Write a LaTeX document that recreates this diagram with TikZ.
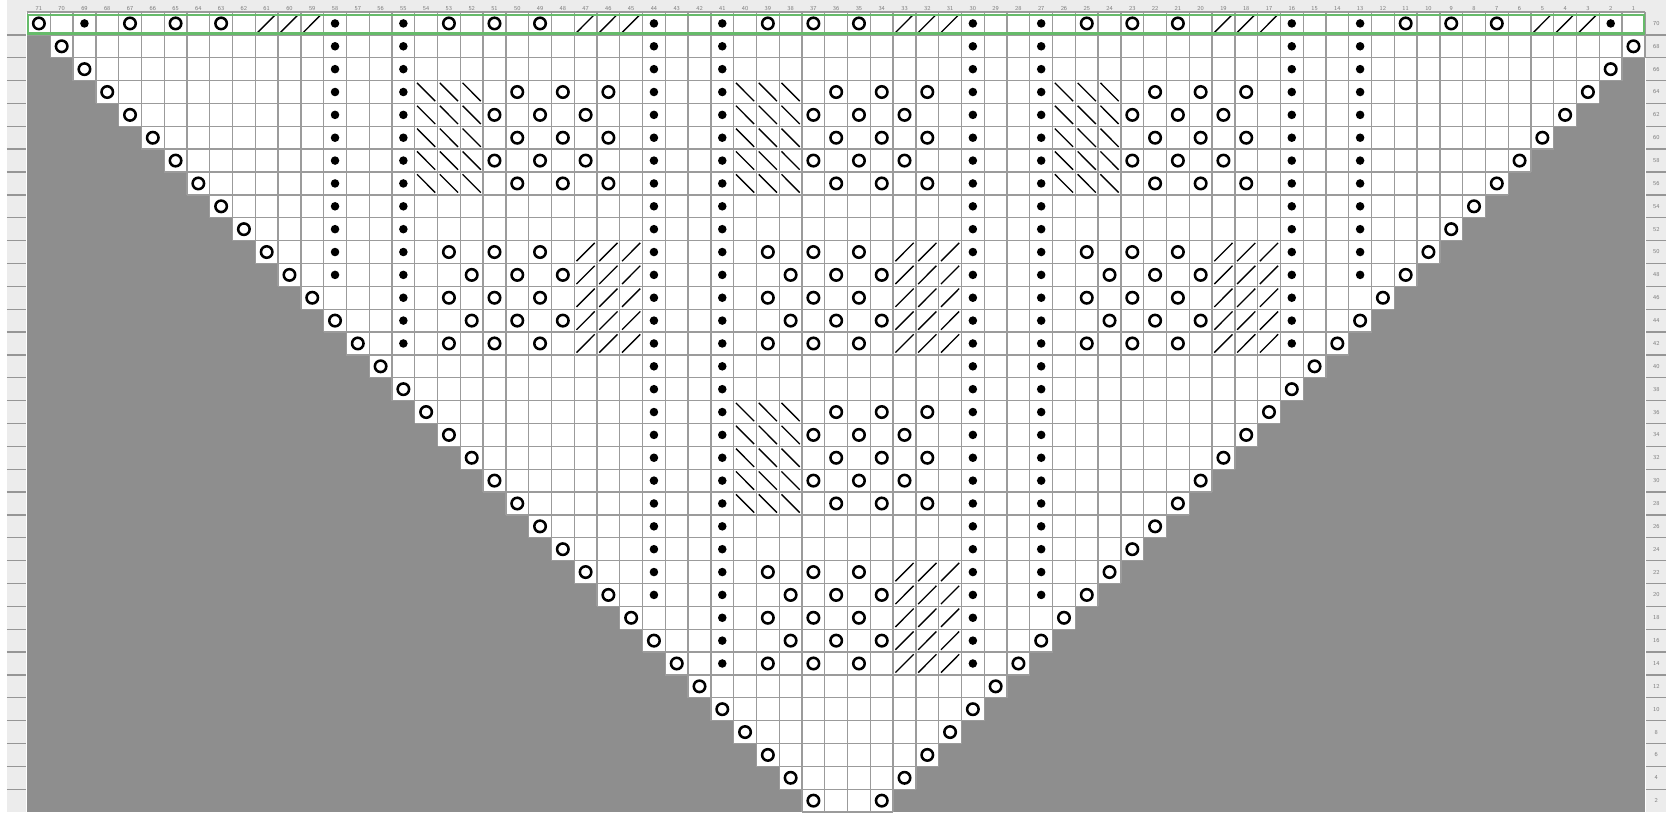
\documentclass[tikz,border=0pt]{standalone}
\definecolor{gridgray}{RGB}{155,155,155}
\definecolor{darkbg}{RGB}{142,142,142}
\definecolor{stripgray}{RGB}{236,236,236}
\definecolor{stripline}{RGB}{150,150,150}
\definecolor{labelgray}{RGB}{125,125,125}
\definecolor{framegreen}{RGB}{102,187,106}
\newcommand\yoat[2]{\draw[yost] ({71.5-(#1)},{-(#2)-0.5}) circle[radius=4.3pt];}
\newcommand\purlat[2]{\fill[black] ({71.5-(#1)},{-(#2)-0.5}) circle[radius=3.2pt];}
\newcommand\ktogat[2]{\draw[decst] ({71.5-(#1)-0.4},{-(#2)-0.9}) -- ({71.5-(#1)+0.4},{-(#2)-0.1});}
\newcommand\sskat[2]{\draw[decst] ({71.5-(#1)-0.4},{-(#2)-0.1}) -- ({71.5-(#1)+0.4},{-(#2)-0.9});}
% section patterns, #1 = first column of the section, #2 = row index
\newcommand\rowDecA[2]{\foreach \d in {0,1,2}{\sskat{#1-\d}{#2}}\foreach \d in {4,6,8}{\yoat{#1-\d}{#2}}}
\newcommand\rowDecB[2]{\foreach \d in {0,1,2}{\sskat{#1-\d}{#2}}\foreach \d in {3,5,7}{\yoat{#1-\d}{#2}}}
\newcommand\rowIncA[2]{\foreach \d in {1,3,5}{\yoat{#1-\d}{#2}}\foreach \d in {7,8,9}{\ktogat{#1-\d}{#2}}}
\newcommand\rowIncB[2]{\foreach \d in {2,4,6}{\yoat{#1-\d}{#2}}\foreach \d in {7,8,9}{\ktogat{#1-\d}{#2}}}
\begin{document}
\begin{tikzpicture}[x=0.6cm,y=0.6021cm,
  gridln/.style={draw=gridgray,line width=1pt},
  yost/.style={draw=black,line width=1.9pt},
  decst/.style={draw=black,line width=1pt},
  stripln/.style={draw=stripline,line width=1pt},
  collab/.style={font=\fontsize{4.5}{5}\selectfont\sffamily,text=labelgray,inner sep=0pt},
  greenbox/.style={draw=framegreen,line width=2pt}]
\useasboundingbox (-1.2072,-35) rectangle (72.236,0.525);
\fill[white] (-1.2072,-35) rectangle (72.236,0.525);
% header and side strips
\fill[stripgray] (-0.90,0) rectangle (71.93,0.525);
\fill[stripgray] (-0.90,-35) rectangle (-0.07,0);
\fill[stripgray] (71.07,-35) rectangle (71.93,0);
\foreach \j in {1,...,34}{
  \draw[stripln] (-0.90,-\j) -- (-0.07,-\j);
  \draw[stripln] (71.07,-\j) -- (71.93,-\j);
}
% background outside the chart
\fill[darkbg] (0,-1) rectangle (71,-35);
% white chart cells
\fill[white] (0,0) rectangle (71,-1);
\foreach \i in {1,...,34}{\fill[white] (\i,-\i) rectangle ({72-\i},{-\i-1});}
% grid lines
\foreach \k in {0,...,71}{
  \pgfmathtruncatemacro\m{min(min(\k,72-\k),34)+1}
  \draw[gridln] (\k,0) -- (\k,-\m);
}
\foreach \j in {0,...,35}{
  \pgfmathtruncatemacro\a{max(\j-1,0)}
  \pgfmathtruncatemacro\b{min(73-\j,71)}
  \draw[gridln] (\a,-\j) -- (\b,-\j);
}
% top row
\yoat{71}{0}
\foreach \s in {68,54,40,26,12}{\rowIncA{\s}{0}}
\foreach \c in {69,58,55,44,41,30,27,16,13,2}{\purlat{\c}{0}}
% edge yarn-overs
\foreach \i in {1,...,34}{\yoat{71-\i}{\i}\yoat{\i}{\i}}
% purl columns
\foreach \c/\n in {58/11,55/14,44/25,41/28,30/28,27/25,16/14,13/11}{
  \foreach \i in {1,...,\n}{\purlat{\c}{\i}}
}
% upper motifs in three sections
\foreach \s in {54,40,26}{
  \foreach \i in {3,5,7}{\rowDecA{\s}{\i}}
  \foreach \i in {4,6}{\rowDecB{\s}{\i}}
  \foreach \i in {10,12,14}{\rowIncA{\s}{\i}}
  \foreach \i in {11,13}{\rowIncB{\s}{\i}}
}
% lower motifs in the centre section
\foreach \i in {17,19,21}{\rowDecA{40}{\i}}
\foreach \i in {18,20}{\rowDecB{40}{\i}}
\foreach \i in {24,26,28}{\rowIncA{40}{\i}}
\foreach \i in {25,27}{\rowIncB{40}{\i}}
% green frame on the top row
\draw[greenbox] (0.02,-0.13) rectangle (70.96,-0.93);
% column numbers
\foreach \c in {1,...,71}{\node[collab] (col\c) at ({71.5-\c},0.16) {\c};}
% row numbers
\foreach \i in {0,...,34}{
  \pgfmathtruncatemacro\r{70-2*\i}
  \node[collab] (row\r) at (71.5,{-\i-0.5}) {\r};
}
\end{tikzpicture}
\end{document}
